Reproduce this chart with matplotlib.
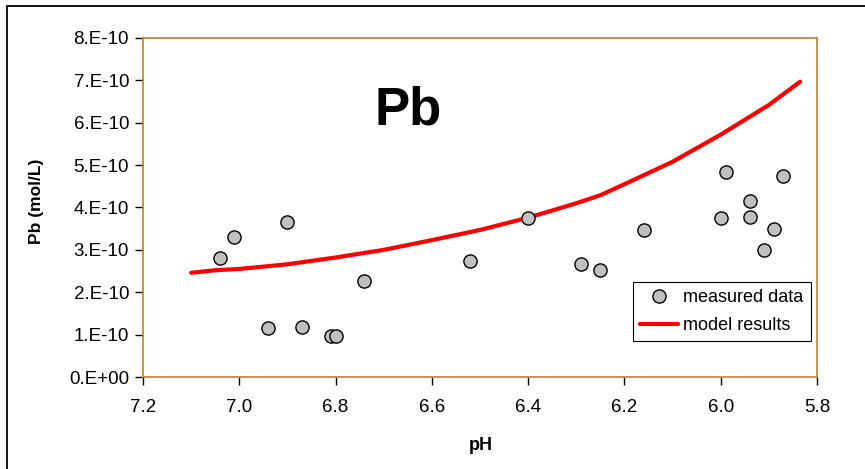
import matplotlib
matplotlib.use("Agg")
import matplotlib.pyplot as plt
from matplotlib.patches import Rectangle

plt.rcParams['font.family'] = ['Liberation Sans', 'DejaVu Sans']

# measured data (pH, Pb in 1e-10 mol/L)
meas_ph = [7.04, 7.01, 6.94, 6.90, 6.87, 6.81, 6.80, 6.74, 6.52, 6.40,
           6.29, 6.25, 6.16, 6.00, 5.99, 5.94, 5.94, 5.91, 5.89, 5.87]
meas_pb = [2.80, 3.31, 1.16, 3.66, 1.18, 0.97, 0.97, 2.27, 2.74, 3.76,
           2.67, 2.53, 3.47, 3.75, 4.83, 4.16, 3.78, 3.00, 3.50, 4.74]

# model results
model_ph = [7.10, 7.05, 7.00, 6.90, 6.80, 6.70, 6.60, 6.50, 6.40, 6.30,
            6.25, 6.20, 6.13, 6.10, 6.00, 5.99, 5.90, 5.835]
model_pb = [2.46, 2.52, 2.55, 2.66, 2.82, 3.00, 3.23, 3.47, 3.76, 4.10,
            4.29, 4.55, 4.92, 5.08, 5.72, 5.79, 6.42, 6.97]

yticks = [0, 1, 2, 3, 4, 5, 6, 7, 8]
ytick_labels = ['0.E+00', '1.E-10', '2.E-10', '3.E-10', '4.E-10',
                '5.E-10', '6.E-10', '7.E-10', '8.E-10']
xticks = [7.2, 7.0, 6.8, 6.6, 6.4, 6.2, 6.0, 5.8]

W, H = 865, 469
fig = plt.figure(figsize=(W / 100, H / 100), dpi=100)
ax = fig.add_axes([143 / W, (H - 377) / H, 674 / W, 339 / H])

spine_col = '#CC7A29'
for s in ax.spines.values():
    s.set_color(spine_col)
    s.set_linewidth(1.2)

ax.plot(model_ph, model_pb, color='#FF0000', lw=3, label='model results',
        solid_capstyle='round', zorder=2)
ax.plot(meas_ph, meas_pb, 'o', ms=9.5, mfc='#C0C0C0', mec='black', mew=1,
        label='measured data', zorder=3)

ax.set_xlim(7.2, 5.8)
ax.set_ylim(0, 8)
ax.set_xticks(xticks)
ax.set_xticklabels(['%.1f' % v for v in xticks])
ax.set_yticks(yticks)
ax.set_yticklabels(ytick_labels)
ax.tick_params(axis='both', direction='out', length=6, width=1, color='black',
               labelsize=13.5, pad=4)
ax.tick_params(axis='x', pad=10)

ax.set_xlabel('pH', fontsize=13, fontweight='bold')
ax.xaxis.set_label_coords(0.501, -0.178)
ax.set_ylabel('Pb (mol/L)', fontsize=12.5, fontweight='bold')
ax.yaxis.set_label_coords(-0.147, 0.519)

ax.text(0.393, 0.785, 'Pb', transform=ax.transAxes, fontsize=38,
        fontweight='bold', ha='center', va='center')

handles, labels = ax.get_legend_handles_labels()
leg = ax.legend(handles[::-1], labels[::-1], loc='lower right',
                bbox_to_anchor=(0.991, 0.106), fontsize=13, frameon=True,
                fancybox=False, edgecolor='black', framealpha=1,
                borderpad=0.4, handlelength=2.1, handletextpad=0.3,
                labelspacing=0.6, borderaxespad=0)
leg.get_frame().set_linewidth(0.8)

# outer chart border
fig.patches.append(Rectangle((7 / W, -0.1), 1.2, 1 - 6 / H + 0.1,
                             transform=fig.transFigure, fill=False,
                             edgecolor='black', lw=1.3))

fig.savefig('out.png', dpi=100)
